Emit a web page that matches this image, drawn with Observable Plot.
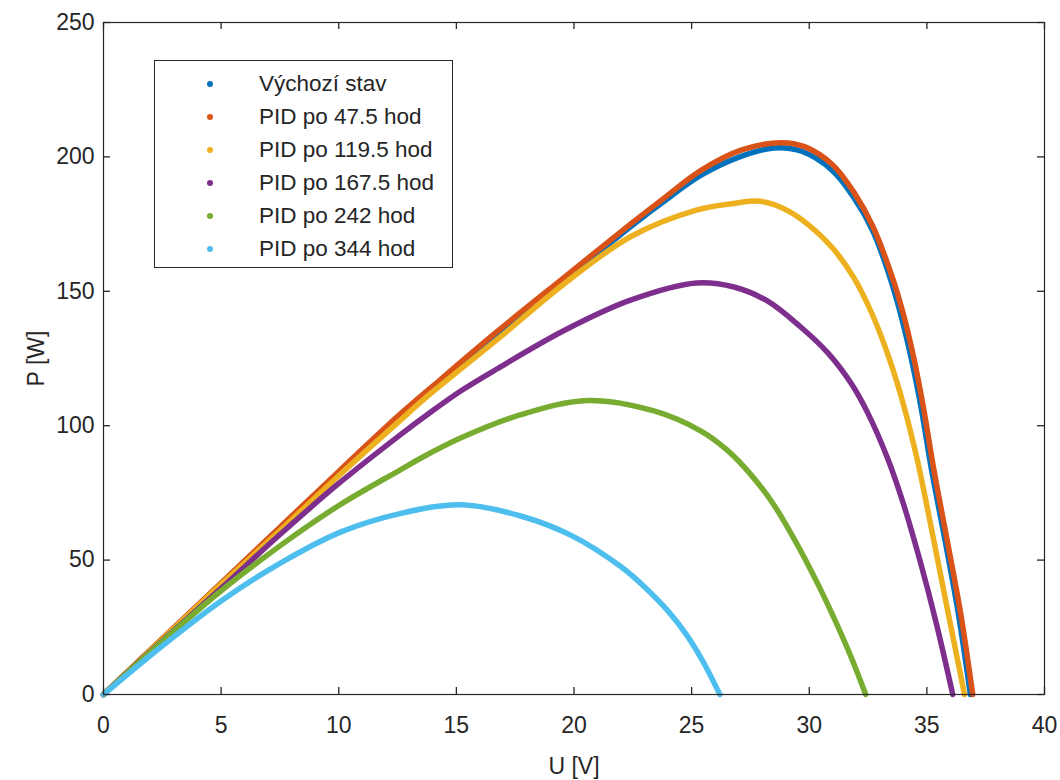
<!DOCTYPE html>
<html>
<head>
<meta charset="utf-8">
<script src="https://cdn.jsdelivr.net/npm/d3@7"></script>
<script src="https://cdn.jsdelivr.net/npm/@observablehq/plot@0.6"></script>
<style>
  body { margin: 0; background: #fff; font-family: "Liberation Sans", Arial, Helvetica, sans-serif; }
  #wrap { position: relative; width: 1060px; height: 780px; }
  #legend { position: absolute; left: 154px; top: 60px; width: 297px; height: 206px;
            border: 1px solid #262626; background: #fff; }
  .row { position: absolute; left: 0; height: 32px; line-height: 32px; font-size: 22.5px; color: #262626; white-space: nowrap; }
  .dot { position: absolute; left: 52px; top: 13px; width: 6px; height: 6px; border-radius: 50%; }
  .lab { position: absolute; left: 104px; top: 0; }
</style>
</head>
<body>
<div id="wrap"><div id="chart"></div><div id="legend"></div></div>
<script>
// ---- data ----
const seriesNames = ["Výchozí stav", "PID po 47.5 hod", "PID po 119.5 hod", "PID po 167.5 hod", "PID po 242 hod", "PID po 344 hod"];
const seriesColors = ["#0072BD", "#D95319", "#EDB120", "#7E2F8E", "#77AC30", "#4DBEEE"];

const uVychozi = [0, 2.5, 5, 7.5, 10, 12.6, 14.3, 16.7, 19.6, 22.4, 23.8, 25.4, 27.1, 28.5, 29.7, 31.0, 31.9, 32.7, 33.4, 33.9, 34.35, 34.75, 35.2, 35.78, 36.34, 36.85];
const pVychozi = [0, 20.7, 41.3, 61.9, 82.6, 103.6, 116.3, 134.0, 154.2, 174.0, 183.3, 193.2, 200.2, 203.3, 202.0, 194.8, 184.8, 172.5, 156.0, 141.0, 124.5, 107.0, 83.5, 57.0, 30.0, 0];

const u47 = [0, 2.5, 5, 7.5, 10, 12.6, 14.3, 16.7, 19.6, 22.4, 23.8, 25.4, 27.1, 28.8, 29.8, 31.0, 31.9, 32.7, 33.5, 34.0, 34.45, 34.85, 35.3, 35.87, 36.44, 36.95];
const p47 = [0, 20.8, 41.5, 62.2, 83.0, 104.2, 117.0, 134.8, 155.3, 175.0, 184.5, 195.0, 202.5, 205.3, 203.8, 197.0, 186.8, 174.2, 156.0, 141.5, 125.0, 107.0, 83.5, 57.0, 30.0, 0];

const u119 = [0, 2.5, 5, 7.5, 10, 12.6, 13.9, 16.7, 19.6, 22.4, 25.2, 26.8, 27.9, 28.9, 29.9, 31.0, 31.9, 32.7, 33.4, 34.0, 34.6, 35.2, 35.9, 36.6];
const p119 = [0, 20.6, 41.0, 61.0, 81.4, 101.9, 111.9, 131.8, 152.9, 170.3, 180.2, 182.7, 183.5, 180.8, 175.2, 166.0, 155.0, 141.0, 125.0, 108.0, 87.0, 61.5, 30.5, 0];

const u167 = [0, 2.5, 5, 7.5, 10, 12.6, 13.9, 15.2, 16.7, 19.6, 22.4, 25.2, 26.8, 28.2, 29.6, 30.8, 31.8, 32.5, 33.3, 34.0, 34.7, 35.4, 36.1];
const p167 = [0, 20.0, 39.5, 59.5, 78.5, 96.5, 105.0, 113.0, 121.0, 135.5, 146.7, 153.1, 151.6, 146.5, 137.0, 127.0, 115.5, 104.5, 88.5, 71.0, 50.0, 26.5, 0];

const u242 = [0, 2.5, 5, 7.5, 10, 12.6, 13.5, 15.2, 17.7, 20.6, 23.4, 25.4, 26.5, 27.5, 28.5, 29.6, 30.4, 31.05, 31.8, 32.4];
const p242 = [0, 19.8, 38.6, 55.3, 70.3, 83.5, 88.0, 95.5, 104.0, 109.4, 105.5, 98.0, 91.0, 82.0, 70.5, 54.0, 40.5, 28.5, 13.5, 0];

const u344 = [0, 2.4, 5.0, 7.5, 10.1, 12.6, 15.2, 17.7, 19.9, 22.0, 23.0, 24.0, 24.8, 25.5, 26.2];
const p344 = [0, 17.4, 34.8, 48.8, 60.5, 67.3, 70.6, 66.5, 59.1, 47.5, 40.0, 31.0, 22.0, 12.0, 0];

const xTicks = [0, 5, 10, 15, 20, 25, 30, 35, 40];
const yTicks = [0, 50, 100, 150, 200, 250];
const xLabel = "U [V]";
const yLabel = "P [W]";

// ---- build table ----
const allU = [uVychozi, u47, u119, u167, u242, u344];
const allP = [pVychozi, p47, p119, p167, p242, p344];
const rows = [];
allU.forEach((us, s) => us.forEach((u, i) => rows.push({series: seriesNames[s], u, p: allP[s][i]})));

const W = 1060, H = 780, mL = 103, mR = 16, mT = 22, mB = 86;
const innerW = W - mL - mR, innerH = H - mT - mB, tick = 7;
const ink = "#262626";
const chart = Plot.plot({
  width: W,
  height: H,
  marginLeft: mL,
  marginRight: mR,
  marginTop: mT,
  marginBottom: mB,
  style: { fontFamily: '"Liberation Sans", Arial, Helvetica, sans-serif', fontSize: "23px", color: ink, background: "#fff" },
  x: { domain: [0, 40] },
  y: { domain: [0, 250] },
  color: { domain: seriesNames, range: seriesColors },
  marks: [
    Plot.line(rows, { x: "u", y: "p", z: "series", stroke: "series", strokeWidth: 5.5, curve: "catmull-rom", strokeLinecap: "round", strokeLinejoin: "round" }),
    // inward tick marks on all four sides (MATLAB box style)
    Plot.ruleX(xTicks, { x: d => d, insetTop: innerH - tick, stroke: ink, strokeWidth: 1.3 }),
    Plot.ruleX(xTicks, { x: d => d, insetBottom: innerH - tick, stroke: ink, strokeWidth: 1.3 }),
    Plot.ruleY(yTicks, { y: d => d, insetRight: innerW - tick, stroke: ink, strokeWidth: 1.3 }),
    Plot.ruleY(yTicks, { y: d => d, insetLeft: innerW - tick, stroke: ink, strokeWidth: 1.3 }),
    Plot.frame({ stroke: ink, strokeWidth: 1.2 }),
    Plot.axisX({ ticks: xTicks, tickSize: 0, tickPadding: 22, label: xLabel, labelAnchor: "center", labelArrow: "none", labelOffset: 79, fill: ink }),
    Plot.axisY({ ticks: yTicks, tickSize: 0, tickPadding: 9, label: yLabel, labelAnchor: "center", labelArrow: "none", labelOffset: 76, fill: ink })
  ]
});
document.getElementById("chart").appendChild(chart);

// ---- legend (inside the axes, like the original) ----
const legend = document.getElementById("legend");
seriesNames.forEach((name, i) => {
  const r = document.createElement("div");
  r.className = "row";
  r.style.top = (7 + i * 33) + "px";
  r.style.width = "297px";
  const d = document.createElement("span");
  d.className = "dot";
  d.style.background = seriesColors[i];
  const t = document.createElement("span");
  t.className = "lab";
  t.textContent = name;
  r.appendChild(d); r.appendChild(t);
  legend.appendChild(r);
});
</script>
</body>
</html>
